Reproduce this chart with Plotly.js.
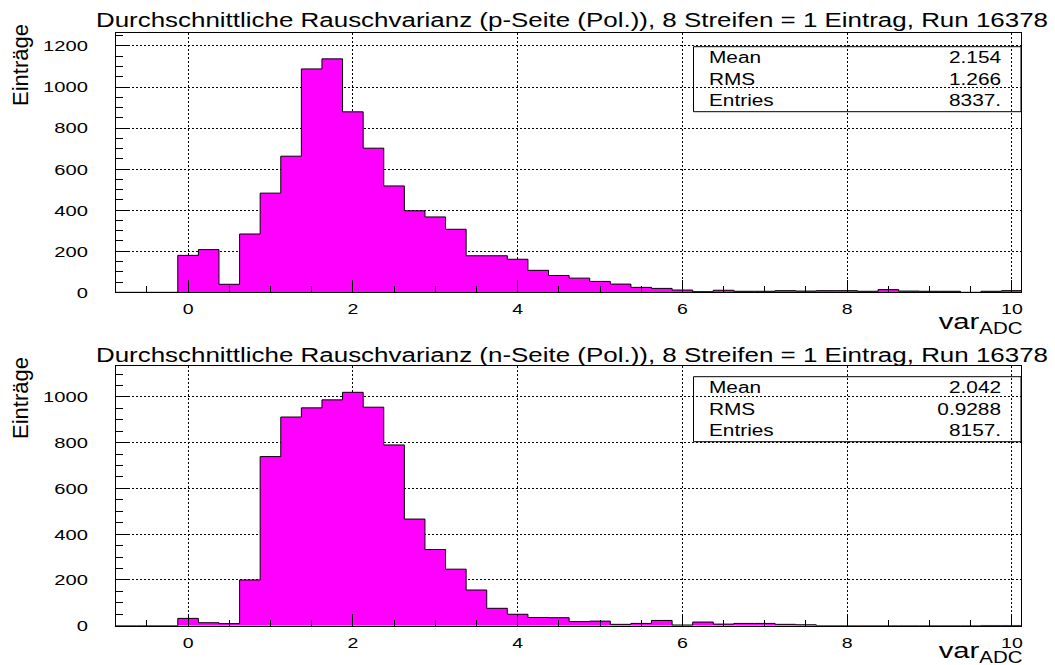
<!DOCTYPE html>
<html>
<head>
<meta charset="utf-8">
<script src="https://cdn.plot.ly/plotly-3.0.1.min.js"></script>
<style>
  html, body { margin: 0; padding: 0; background: #fff; }
  #chart { width: 1055px; height: 665px; }
</style>
</head>
<body>
<div id="chart"></div>
<script>
// Bin centres of the var_ADC histograms (bin width 0.25)
const binCenters = [-0.75, -0.5, -0.25, 0.0, 0.25, 0.5, 0.75, 1.0, 1.25, 1.5, 1.75,
  2.0, 2.25, 2.5, 2.75, 3.0, 3.25, 3.5, 3.75, 4.0, 4.25, 4.5, 4.75, 5.0, 5.25, 5.5,
  5.75, 6.0, 6.25, 6.5, 6.75, 7.0, 7.25, 7.5, 7.75, 8.0, 8.25, 8.5, 8.75, 9.0, 9.25,
  9.5, 9.75, 10.0];
const binWidth = 0.25;

// p-side counts
const countsP = [0, 0, 0, 180, 208, 39, 284, 483, 663, 1088, 1137,
  879, 702, 518, 397, 367, 307, 178, 178, 161, 107, 82, 69, 53, 40, 24,
  19, 11, 3, 10, 5, 5, 8, 6, 8, 8, 5, 13, 6, 5, 5,
  0, 5, 8];

// n-side counts
const countsN = [0, 0, 0, 32, 13, 9, 200, 739, 912, 952, 987,
  1020, 955, 790, 466, 333, 247, 156, 76, 50, 36, 35, 18, 20, 6, 10,
  23, 3, 16, 7, 10, 10, 6, 4, 0, 0, 0, 0, 0, 0, 0,
  0, 1, 1];

const titleP = 'Durchschnittliche Rauschvarianz (p-Seite (Pol.)), 8 Streifen = 1 Eintrag, Run 16378';
const titleN = 'Durchschnittliche Rauschvarianz (n-Seite (Pol.)), 8 Streifen = 1 Eintrag, Run 16378';
const statNames = ['Mean', 'RMS', 'Entries'];
const statsP = ['2.154', '1.266', '8337.'];
const statsN = ['2.042', '0.9288', '8157.'];
const yTitle = 'Einträge';
const xTitle = 'var<sub>ADC</sub>';

const W = 1055, H = 665;
const px = v => v / W;
const py = v => 1 - v / H;
const FONT = 'Liberation Sans, Arial, Helvetica, sans-serif';
const SX = 1.3; // horizontal widening of the text glyphs

// Outline of a histogram as a step path through its bin edges
function stepTrace(counts, xa, ya) {
  const xs = [binCenters[0] - binWidth / 2];
  const ys = [0];
  counts.forEach((c, i) => { xs.push(binCenters[i] - binWidth / 2); ys.push(c); });
  const last = binCenters[binCenters.length - 1] + binWidth / 2;
  xs.push(last); ys.push(counts[counts.length - 1]);
  xs.push(last); ys.push(0);
  return {
    type: 'scatter', mode: 'lines', x: xs, y: ys, xaxis: xa, yaxis: ya,
    line: { shape: 'hv', color: 'black', width: 1 },
    fill: 'tozeroy', fillcolor: '#ff00ff', hoverinfo: 'skip'
  };
}

function xAxis(dom, anchor) {
  return {
    domain: dom, anchor: anchor, range: [-0.875, 10.11],
    tick0: 0, dtick: 2, ticks: 'inside', ticklen: 12, tickwidth: 1, tickcolor: 'black',
    minor: { dtick: 0.5, ticks: 'inside', ticklen: 6, tickwidth: 1, tickcolor: 'black', showgrid: false },
    showgrid: true, gridcolor: 'black', gridwidth: 1, griddash: '2px,2px',
    showline: true, mirror: true, linecolor: 'black', linewidth: 1, zeroline: false,
    ticklabelstandoff: 3,
    tickfont: { family: FONT, size: 15, color: 'black' }
  };
}
function yAxis(dom, anchor, top) {
  return {
    domain: dom, anchor: anchor, range: [0, top],
    tick0: 0, dtick: 200, ticks: 'inside', ticklen: 14, tickwidth: 1, tickcolor: 'black',
    minor: { dtick: 50, ticks: 'inside', ticklen: 7, tickwidth: 1, tickcolor: 'black', showgrid: false },
    showgrid: true, gridcolor: 'black', gridwidth: 1, griddash: '2px,2px',
    showline: true, mirror: true, linecolor: 'black', linewidth: 1, zeroline: false,
    ticklabelstandoff: 24,
    tickfont: { family: FONT, size: 15.5, color: 'black' }
  };
}

const annotations = [];
const shapes = [];
function addPanel(title, titleY, values, boxTop) {
  annotations.push({ text: title, xref: 'paper', yref: 'paper', x: px(572), y: py(titleY),
    xanchor: 'center', yanchor: 'middle', showarrow: false, sx: 1.33,
    font: { family: FONT, size: 19.5, color: 'black' } });
  const rowH = 21.7;
  shapes.push({ type: 'rect', xref: 'paper', yref: 'paper',
    x0: px(693.5), x1: px(1021), y0: py(boxTop), y1: py(boxTop + 65),
    line: { color: 'black', width: 1 }, fillcolor: 'rgba(0,0,0,0)' });
  statNames.forEach((n, i) => {
    const yc = boxTop + 10.8 + rowH * i;
    annotations.push({ text: n, xref: 'paper', yref: 'paper', x: px(707), y: py(yc),
      xanchor: 'left', yanchor: 'middle', showarrow: false,
      font: { family: FONT, size: 16, color: 'black' } });
    annotations.push({ text: values[i], xref: 'paper', yref: 'paper', x: px(1003), y: py(yc),
      xanchor: 'right', yanchor: 'middle', showarrow: false,
      font: { family: FONT, size: 16, color: 'black' } });
  });
}
addPanel(titleP, 20, statsP, 46.7);
addPanel(titleN, 355, statsN, 376.7);

// axis titles
[65, 398].forEach(yc => {
  annotations.push({ text: yTitle, xref: 'paper', yref: 'paper', x: px(20), y: py(yc),
    xanchor: 'center', yanchor: 'middle', textangle: -90, showarrow: false, sx: 1,
    font: { family: FONT, size: 22, color: 'black' } });
});
[323, 652].forEach(yc => {
  annotations.push({ text: xTitle, xref: 'paper', yref: 'paper', x: px(1025), y: py(yc),
    xanchor: 'right', yanchor: 'middle', showarrow: false,
    font: { family: FONT, size: 22.5, color: 'black' } });
});

const data = [stepTrace(countsP, 'x', 'y'), stepTrace(countsN, 'x2', 'y2')];
const layout = {
  width: W, height: H, margin: { l: 0, r: 0, t: 0, b: 0 },
  paper_bgcolor: 'white', plot_bgcolor: 'white', showlegend: false,
  xaxis: xAxis([px(116), px(1021)], 'y'),
  yaxis: yAxis([py(292.3), py(33)], 'x', 1263),
  xaxis2: xAxis([px(116), px(1021)], 'y2'),
  yaxis2: yAxis([py(625.7), py(366)], 'x2', 1135),
  annotations: annotations, shapes: shapes
};

const gd = document.getElementById('chart');
Plotly.newPlot(gd, data, layout, { staticPlot: true }).then(() => {
  // widen horizontal glyphs, keeping each label's anchored edge in place
  gd.querySelectorAll('g.xtick text, g.ytick text, g.x2tick text, g.y2tick text').forEach(t => {
    const len = t.getComputedTextLength();
    if (!len) return;
    t.setAttribute('textLength', len * SX);
    t.setAttribute('lengthAdjust', 'spacingAndGlyphs');
  });
  gd.querySelectorAll('g.annotation').forEach(g => {
    const a = annotations[+g.getAttribute('data-index')];
    const t = g.querySelector('text');
    if (!a || !t) return;
    const k = a.sx === undefined ? SX : a.sx;
    if (k === 1) return;
    const len = t.getComputedTextLength();
    t.setAttribute('textLength', len * k);
    t.setAttribute('lengthAdjust', 'spacingAndGlyphs');
    const grow = len * (k - 1) / 2;
    let dx = 0;
    if (a.xanchor === 'left') dx = grow;
    if (a.xanchor === 'right') dx = -grow;
    if (dx) t.setAttribute('transform', 'translate(' + dx + ',0)');
  });
});
</script>
</body>
</html>
